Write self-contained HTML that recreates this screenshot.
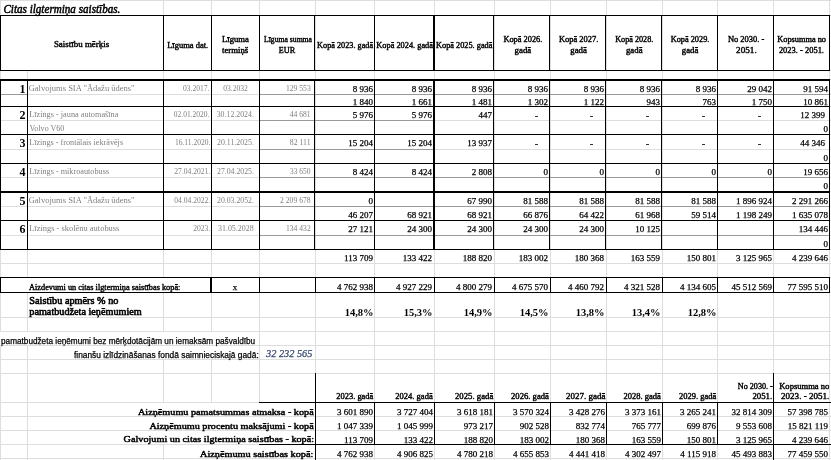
<!DOCTYPE html>
<html><head><meta charset="utf-8"><title>Citas ilgtermiņa saistības</title>
<style>
html,body{margin:0;padding:0;background:#fff;}
body{width:831px;height:460px;overflow:hidden;}
svg{display:block;}
svg text{font-family:'Liberation Serif',serif;}
</style></head><body>
<svg width="831" height="460" viewBox="0 0 831 460" shape-rendering="crispEdges">
<rect x="0" y="0" width="831" height="460" fill="#fff"/>
<rect x="0" y="0" width="831" height="1" fill="#dedede"/>
<rect x="0" y="15" width="831" height="1" fill="#dedede"/>
<rect x="0" y="70" width="831" height="1" fill="#dedede"/>
<rect x="0" y="79" width="831" height="1" fill="#dedede"/>
<rect x="0" y="94" width="831" height="1" fill="#dedede"/>
<rect x="0" y="106" width="831" height="1" fill="#dedede"/>
<rect x="0" y="120" width="831" height="1" fill="#dedede"/>
<rect x="0" y="134" width="831" height="1" fill="#dedede"/>
<rect x="0" y="149" width="831" height="1" fill="#dedede"/>
<rect x="0" y="163" width="831" height="1" fill="#dedede"/>
<rect x="0" y="177" width="831" height="1" fill="#dedede"/>
<rect x="0" y="191" width="831" height="1" fill="#dedede"/>
<rect x="0" y="206" width="831" height="1" fill="#dedede"/>
<rect x="0" y="220" width="831" height="1" fill="#dedede"/>
<rect x="0" y="235" width="831" height="1" fill="#dedede"/>
<rect x="0" y="249" width="831" height="1" fill="#dedede"/>
<rect x="0" y="263" width="831" height="1" fill="#dedede"/>
<rect x="0" y="277" width="831" height="1" fill="#dedede"/>
<rect x="0" y="292" width="831" height="1" fill="#dedede"/>
<rect x="0" y="317" width="831" height="1" fill="#dedede"/>
<rect x="0" y="331" width="831" height="1" fill="#dedede"/>
<rect x="0" y="345" width="831" height="1" fill="#dedede"/>
<rect x="0" y="359" width="831" height="1" fill="#dedede"/>
<rect x="0" y="373" width="831" height="1" fill="#dedede"/>
<rect x="0" y="402" width="831" height="1" fill="#dedede"/>
<rect x="0" y="416" width="831" height="1" fill="#dedede"/>
<rect x="0" y="430" width="831" height="1" fill="#dedede"/>
<rect x="0" y="444" width="831" height="1" fill="#dedede"/>
<rect x="0" y="458" width="831" height="1" fill="#dedede"/>
<rect x="0" y="0" width="1" height="332" fill="#dedede"/>
<rect x="0" y="345" width="1" height="115" fill="#dedede"/>
<rect x="27" y="0" width="1" height="1" fill="#dedede"/>
<rect x="27" y="15" width="1" height="1" fill="#dedede"/>
<rect x="27" y="70" width="1" height="208" fill="#dedede"/>
<rect x="27" y="292" width="1" height="40" fill="#dedede"/>
<rect x="27" y="345" width="1" height="115" fill="#dedede"/>
<rect x="163" y="0" width="1" height="16" fill="#dedede"/>
<rect x="163" y="70" width="1" height="208" fill="#dedede"/>
<rect x="163" y="292" width="1" height="40" fill="#dedede"/>
<rect x="163" y="345" width="1" height="1" fill="#dedede"/>
<rect x="163" y="359" width="1" height="44" fill="#dedede"/>
<rect x="163" y="444" width="1" height="16" fill="#dedede"/>
<rect x="211" y="0" width="1" height="332" fill="#dedede"/>
<rect x="211" y="345" width="1" height="1" fill="#dedede"/>
<rect x="211" y="359" width="1" height="44" fill="#dedede"/>
<rect x="211" y="444" width="1" height="1" fill="#dedede"/>
<rect x="259" y="0" width="1" height="403" fill="#dedede"/>
<rect x="259" y="444" width="1" height="1" fill="#dedede"/>
<rect x="315" y="0" width="1" height="460" fill="#dedede"/>
<rect x="374" y="0" width="1" height="460" fill="#dedede"/>
<rect x="434" y="0" width="1" height="460" fill="#dedede"/>
<rect x="494" y="0" width="1" height="460" fill="#dedede"/>
<rect x="550" y="0" width="1" height="460" fill="#dedede"/>
<rect x="606" y="0" width="1" height="460" fill="#dedede"/>
<rect x="662" y="0" width="1" height="460" fill="#dedede"/>
<rect x="717" y="0" width="1" height="460" fill="#dedede"/>
<rect x="773" y="0" width="1" height="460" fill="#dedede"/>
<rect x="829" y="0" width="1" height="460" fill="#dedede"/>
<rect x="0" y="94" width="28" height="1" fill="#9a9a9a"/>
<rect x="259" y="94" width="571" height="1" fill="#9a9a9a"/>
<rect x="259" y="120" width="176" height="1" fill="#9a9a9a"/>
<rect x="259" y="149" width="176" height="1" fill="#9a9a9a"/>
<rect x="259" y="177" width="571" height="1" fill="#9a9a9a"/>
<rect x="259" y="206" width="571" height="1" fill="#9a9a9a"/>
<rect x="259" y="235" width="571" height="1" fill="#9a9a9a"/>
<rect x="0" y="15" width="830" height="1" fill="#000"/>
<rect x="0" y="70" width="830" height="1" fill="#000"/>
<rect x="0" y="79" width="830" height="2" fill="#000"/>
<rect x="0" y="15" width="1" height="56" fill="#000"/>
<rect x="163" y="15" width="1" height="56" fill="#000"/>
<rect x="211" y="15" width="1" height="56" fill="#000"/>
<rect x="259" y="15" width="1" height="56" fill="#000"/>
<rect x="314" y="15" width="1" height="56" fill="#000"/>
<rect x="374" y="15" width="1" height="56" fill="#000"/>
<rect x="493" y="15" width="1" height="56" fill="#000"/>
<rect x="549" y="15" width="1" height="56" fill="#000"/>
<rect x="605" y="15" width="1" height="56" fill="#000"/>
<rect x="661" y="15" width="1" height="56" fill="#000"/>
<rect x="717" y="15" width="1" height="56" fill="#000"/>
<rect x="773" y="15" width="1" height="56" fill="#000"/>
<rect x="829" y="15" width="1" height="56" fill="#000"/>
<rect x="433" y="15" width="2" height="56" fill="#000"/>
<rect x="0" y="79" width="1" height="171" fill="#000"/>
<rect x="27" y="79" width="1" height="171" fill="#000"/>
<rect x="163" y="79" width="1" height="171" fill="#000"/>
<rect x="211" y="79" width="1" height="171" fill="#000"/>
<rect x="259" y="79" width="1" height="171" fill="#000"/>
<rect x="314" y="79" width="1" height="171" fill="#000"/>
<rect x="374" y="79" width="1" height="171" fill="#000"/>
<rect x="493" y="79" width="1" height="171" fill="#000"/>
<rect x="549" y="79" width="1" height="171" fill="#000"/>
<rect x="605" y="79" width="1" height="171" fill="#000"/>
<rect x="661" y="79" width="1" height="171" fill="#000"/>
<rect x="717" y="79" width="1" height="171" fill="#000"/>
<rect x="773" y="79" width="1" height="171" fill="#000"/>
<rect x="829" y="79" width="1" height="171" fill="#000"/>
<rect x="433" y="79" width="2" height="171" fill="#000"/>
<rect x="0" y="106" width="830" height="1" fill="#000"/>
<rect x="0" y="134" width="830" height="1" fill="#000"/>
<rect x="0" y="163" width="830" height="1" fill="#000"/>
<rect x="0" y="220" width="830" height="1" fill="#000"/>
<rect x="0" y="249" width="830" height="1" fill="#000"/>
<rect x="0" y="191" width="830" height="2" fill="#000"/>
<rect x="0" y="277" width="830" height="1" fill="#000"/>
<rect x="0" y="292" width="830" height="1" fill="#000"/>
<rect x="0" y="277" width="1" height="16" fill="#000"/>
<rect x="259" y="277" width="1" height="16" fill="#000"/>
<rect x="315" y="277" width="1" height="16" fill="#000"/>
<rect x="374" y="277" width="1" height="16" fill="#000"/>
<rect x="434" y="277" width="1" height="16" fill="#000"/>
<rect x="494" y="277" width="1" height="16" fill="#000"/>
<rect x="550" y="277" width="1" height="16" fill="#000"/>
<rect x="606" y="277" width="1" height="16" fill="#000"/>
<rect x="662" y="277" width="1" height="16" fill="#000"/>
<rect x="717" y="277" width="1" height="16" fill="#000"/>
<rect x="773" y="277" width="1" height="16" fill="#000"/>
<rect x="829" y="277" width="1" height="16" fill="#000"/>
<rect x="210" y="277" width="2" height="16" fill="#000"/>
<rect x="315" y="373" width="1" height="87" fill="#000"/>
<rect x="773" y="373" width="1" height="87" fill="#000"/>
<rect x="259" y="402" width="572" height="1" fill="#000"/>
<rect x="259" y="444" width="572" height="1" fill="#000"/>
<rect x="374" y="402" width="1" height="43" fill="#000"/>
<rect x="434" y="402" width="1" height="43" fill="#000"/>
<rect x="494" y="402" width="1" height="43" fill="#000"/>
<rect x="550" y="402" width="1" height="43" fill="#000"/>
<rect x="606" y="402" width="1" height="43" fill="#000"/>
<rect x="662" y="402" width="1" height="43" fill="#000"/>
<rect x="717" y="402" width="1" height="43" fill="#000"/>
<text x="3.4" y="13" font-size="11.5" font-style="italic" textLength="117" lengthAdjust="spacingAndGlyphs" stroke="#000" stroke-width="0.5" stroke-linejoin="round">Citas ilgtermiņa saistības.</text>
<text x="53.9" y="47" font-size="8.5" textLength="55.3" lengthAdjust="spacingAndGlyphs" stroke="#000" stroke-width="0.4" stroke-linejoin="round">Saistību mērķis</text>
<text x="167.2" y="48" font-size="8.5" textLength="41.0" lengthAdjust="spacingAndGlyphs" stroke="#000" stroke-width="0.4" stroke-linejoin="round">Līguma dat.</text>
<text x="222" y="42" font-size="8.5" textLength="26.8" lengthAdjust="spacingAndGlyphs" stroke="#000" stroke-width="0.4" stroke-linejoin="round">Līguma</text>
<text x="222" y="53" font-size="8.5" textLength="26.2" lengthAdjust="spacingAndGlyphs" stroke="#000" stroke-width="0.4" stroke-linejoin="round">termiņš</text>
<text x="264" y="42" font-size="8.5" textLength="48.0" lengthAdjust="spacingAndGlyphs" stroke="#000" stroke-width="0.4" stroke-linejoin="round">Līguma summa</text>
<text x="278.8" y="53" font-size="8.5" textLength="16.3" lengthAdjust="spacingAndGlyphs" stroke="#000" stroke-width="0.4" stroke-linejoin="round">EUR</text>
<text x="317.1" y="48" font-size="8.5" textLength="56.0" lengthAdjust="spacingAndGlyphs" stroke="#000" stroke-width="0.4" stroke-linejoin="round">Kopā 2023. gadā</text>
<text x="376.3" y="48" font-size="8.5" textLength="56.7" lengthAdjust="spacingAndGlyphs" stroke="#000" stroke-width="0.4" stroke-linejoin="round">Kopā 2024. gadā</text>
<text x="436" y="48" font-size="8.5" textLength="56.4" lengthAdjust="spacingAndGlyphs" stroke="#000" stroke-width="0.4" stroke-linejoin="round">Kopā 2025. gadā</text>
<text x="503.4" y="42" font-size="8.5" textLength="39.0" lengthAdjust="spacingAndGlyphs" stroke="#000" stroke-width="0.4" stroke-linejoin="round">Kopā 2026.</text>
<text x="514.6" y="53" font-size="8.5" textLength="16.6" lengthAdjust="spacingAndGlyphs" stroke="#000" stroke-width="0.4" stroke-linejoin="round">gadā</text>
<text x="558.9" y="42" font-size="8.5" textLength="39.4" lengthAdjust="spacingAndGlyphs" stroke="#000" stroke-width="0.4" stroke-linejoin="round">Kopā 2027.</text>
<text x="570.3" y="53" font-size="8.5" textLength="16.6" lengthAdjust="spacingAndGlyphs" stroke="#000" stroke-width="0.4" stroke-linejoin="round">gadā</text>
<text x="615.2" y="42" font-size="8.5" textLength="38.1" lengthAdjust="spacingAndGlyphs" stroke="#000" stroke-width="0.4" stroke-linejoin="round">Kopā 2028.</text>
<text x="625.9499999999999" y="53" font-size="8.5" textLength="16.6" lengthAdjust="spacingAndGlyphs" stroke="#000" stroke-width="0.4" stroke-linejoin="round">gadā</text>
<text x="670.7" y="42" font-size="8.5" textLength="38.7" lengthAdjust="spacingAndGlyphs" stroke="#000" stroke-width="0.4" stroke-linejoin="round">Kopā 2029.</text>
<text x="681.75" y="53" font-size="8.5" textLength="16.6" lengthAdjust="spacingAndGlyphs" stroke="#000" stroke-width="0.4" stroke-linejoin="round">gadā</text>
<text x="727.9" y="42" font-size="8.5" textLength="36.4" lengthAdjust="spacingAndGlyphs" stroke="#000" stroke-width="0.4" stroke-linejoin="round">No 2030. -</text>
<text x="736.1" y="53" font-size="8.5" textLength="20.6" lengthAdjust="spacingAndGlyphs" stroke="#000" stroke-width="0.4" stroke-linejoin="round">2051.</text>
<text x="777.3" y="42" font-size="8.5" textLength="48.7" lengthAdjust="spacingAndGlyphs" stroke="#000" stroke-width="0.4" stroke-linejoin="round">Kopsumma no</text>
<text x="778.9" y="53" font-size="8.5" textLength="45.1" lengthAdjust="spacingAndGlyphs" stroke="#000" stroke-width="0.4" stroke-linejoin="round">2023. - 2051.</text>
<text x="373" y="92" font-size="9" text-anchor="end" stroke="#000" stroke-width="0.25" stroke-linejoin="round">8 936</text>
<text x="432" y="92" font-size="9" text-anchor="end" stroke="#000" stroke-width="0.25" stroke-linejoin="round">8 936</text>
<text x="492" y="92" font-size="9" text-anchor="end" stroke="#000" stroke-width="0.25" stroke-linejoin="round">8 936</text>
<text x="548" y="92" font-size="9" text-anchor="end" stroke="#000" stroke-width="0.25" stroke-linejoin="round">8 936</text>
<text x="604" y="92" font-size="9" text-anchor="end" stroke="#000" stroke-width="0.25" stroke-linejoin="round">8 936</text>
<text x="660" y="92" font-size="9" text-anchor="end" stroke="#000" stroke-width="0.25" stroke-linejoin="round">8 936</text>
<text x="716" y="92" font-size="9" text-anchor="end" stroke="#000" stroke-width="0.25" stroke-linejoin="round">8 936</text>
<text x="772" y="92" font-size="9" text-anchor="end" stroke="#000" stroke-width="0.25" stroke-linejoin="round">29 042</text>
<text x="828" y="92" font-size="9" text-anchor="end" stroke="#000" stroke-width="0.25" stroke-linejoin="round">91 594</text>
<text x="373" y="105" font-size="9" text-anchor="end" stroke="#000" stroke-width="0.25" stroke-linejoin="round">1 840</text>
<text x="432" y="105" font-size="9" text-anchor="end" stroke="#000" stroke-width="0.25" stroke-linejoin="round">1 661</text>
<text x="492" y="105" font-size="9" text-anchor="end" stroke="#000" stroke-width="0.25" stroke-linejoin="round">1 481</text>
<text x="548" y="105" font-size="9" text-anchor="end" stroke="#000" stroke-width="0.25" stroke-linejoin="round">1 302</text>
<text x="604" y="105" font-size="9" text-anchor="end" stroke="#000" stroke-width="0.25" stroke-linejoin="round">1 122</text>
<text x="660" y="105" font-size="9" text-anchor="end" stroke="#000" stroke-width="0.25" stroke-linejoin="round">943</text>
<text x="716" y="105" font-size="9" text-anchor="end" stroke="#000" stroke-width="0.25" stroke-linejoin="round">763</text>
<text x="772" y="105" font-size="9" text-anchor="end" stroke="#000" stroke-width="0.25" stroke-linejoin="round">1 750</text>
<text x="828" y="105" font-size="9" text-anchor="end" stroke="#000" stroke-width="0.25" stroke-linejoin="round">10 861</text>
<text x="373" y="118" font-size="9" text-anchor="end" stroke="#000" stroke-width="0.25" stroke-linejoin="round">5 976</text>
<text x="432" y="118" font-size="9" text-anchor="end" stroke="#000" stroke-width="0.25" stroke-linejoin="round">5 976</text>
<text x="492" y="118" font-size="9" text-anchor="end" stroke="#000" stroke-width="0.25" stroke-linejoin="round">447</text>
<rect x="535" y="116" width="3" height="1" fill="#333"/>
<rect x="590" y="116" width="3" height="1" fill="#333"/>
<rect x="646" y="116" width="3" height="1" fill="#333"/>
<rect x="702" y="116" width="3" height="1" fill="#333"/>
<rect x="758" y="116" width="3" height="1" fill="#333"/>
<text x="825" y="118" font-size="9" text-anchor="end" stroke="#000" stroke-width="0.25" stroke-linejoin="round">12 399</text>
<text x="828" y="132" font-size="9" text-anchor="end" stroke="#000" stroke-width="0.25" stroke-linejoin="round">0</text>
<text x="373" y="146" font-size="9" text-anchor="end" stroke="#000" stroke-width="0.25" stroke-linejoin="round">15 204</text>
<text x="432" y="146" font-size="9" text-anchor="end" stroke="#000" stroke-width="0.25" stroke-linejoin="round">15 204</text>
<text x="492" y="146" font-size="9" text-anchor="end" stroke="#000" stroke-width="0.25" stroke-linejoin="round">13 937</text>
<rect x="535" y="144" width="3" height="1" fill="#333"/>
<rect x="590" y="144" width="3" height="1" fill="#333"/>
<rect x="646" y="144" width="3" height="1" fill="#333"/>
<rect x="702" y="144" width="3" height="1" fill="#333"/>
<rect x="758" y="144" width="3" height="1" fill="#333"/>
<text x="825" y="146" font-size="9" text-anchor="end" stroke="#000" stroke-width="0.25" stroke-linejoin="round">44 346</text>
<text x="828" y="161" font-size="9" text-anchor="end" stroke="#000" stroke-width="0.25" stroke-linejoin="round">0</text>
<text x="373" y="175" font-size="9" text-anchor="end" stroke="#000" stroke-width="0.25" stroke-linejoin="round">8 424</text>
<text x="432" y="175" font-size="9" text-anchor="end" stroke="#000" stroke-width="0.25" stroke-linejoin="round">8 424</text>
<text x="492" y="175" font-size="9" text-anchor="end" stroke="#000" stroke-width="0.25" stroke-linejoin="round">2 808</text>
<text x="548" y="175" font-size="9" text-anchor="end" stroke="#000" stroke-width="0.25" stroke-linejoin="round">0</text>
<text x="604" y="175" font-size="9" text-anchor="end" stroke="#000" stroke-width="0.25" stroke-linejoin="round">0</text>
<text x="660" y="175" font-size="9" text-anchor="end" stroke="#000" stroke-width="0.25" stroke-linejoin="round">0</text>
<text x="716" y="175" font-size="9" text-anchor="end" stroke="#000" stroke-width="0.25" stroke-linejoin="round">0</text>
<text x="772" y="175" font-size="9" text-anchor="end" stroke="#000" stroke-width="0.25" stroke-linejoin="round">0</text>
<text x="828" y="175" font-size="9" text-anchor="end" stroke="#000" stroke-width="0.25" stroke-linejoin="round">19 656</text>
<text x="828" y="189" font-size="9" text-anchor="end" stroke="#000" stroke-width="0.25" stroke-linejoin="round">0</text>
<text x="373" y="204" font-size="9" text-anchor="end" stroke="#000" stroke-width="0.25" stroke-linejoin="round">0</text>
<text x="492" y="204" font-size="9" text-anchor="end" stroke="#000" stroke-width="0.25" stroke-linejoin="round">67 990</text>
<text x="548" y="204" font-size="9" text-anchor="end" stroke="#000" stroke-width="0.25" stroke-linejoin="round">81 588</text>
<text x="604" y="204" font-size="9" text-anchor="end" stroke="#000" stroke-width="0.25" stroke-linejoin="round">81 588</text>
<text x="660" y="204" font-size="9" text-anchor="end" stroke="#000" stroke-width="0.25" stroke-linejoin="round">81 588</text>
<text x="716" y="204" font-size="9" text-anchor="end" stroke="#000" stroke-width="0.25" stroke-linejoin="round">81 588</text>
<text x="772" y="204" font-size="9" text-anchor="end" stroke="#000" stroke-width="0.25" stroke-linejoin="round">1 896 924</text>
<text x="828" y="204" font-size="9" text-anchor="end" stroke="#000" stroke-width="0.25" stroke-linejoin="round">2 291 266</text>
<text x="373" y="218" font-size="9" text-anchor="end" stroke="#000" stroke-width="0.25" stroke-linejoin="round">46 207</text>
<text x="432" y="218" font-size="9" text-anchor="end" stroke="#000" stroke-width="0.25" stroke-linejoin="round">68 921</text>
<text x="492" y="218" font-size="9" text-anchor="end" stroke="#000" stroke-width="0.25" stroke-linejoin="round">68 921</text>
<text x="548" y="218" font-size="9" text-anchor="end" stroke="#000" stroke-width="0.25" stroke-linejoin="round">66 876</text>
<text x="604" y="218" font-size="9" text-anchor="end" stroke="#000" stroke-width="0.25" stroke-linejoin="round">64 422</text>
<text x="660" y="218" font-size="9" text-anchor="end" stroke="#000" stroke-width="0.25" stroke-linejoin="round">61 968</text>
<text x="716" y="218" font-size="9" text-anchor="end" stroke="#000" stroke-width="0.25" stroke-linejoin="round">59 514</text>
<text x="772" y="218" font-size="9" text-anchor="end" stroke="#000" stroke-width="0.25" stroke-linejoin="round">1 198 249</text>
<text x="828" y="218" font-size="9" text-anchor="end" stroke="#000" stroke-width="0.25" stroke-linejoin="round">1 635 078</text>
<text x="373" y="232" font-size="9" text-anchor="end" stroke="#000" stroke-width="0.25" stroke-linejoin="round">27 121</text>
<text x="432" y="232" font-size="9" text-anchor="end" stroke="#000" stroke-width="0.25" stroke-linejoin="round">24 300</text>
<text x="492" y="232" font-size="9" text-anchor="end" stroke="#000" stroke-width="0.25" stroke-linejoin="round">24 300</text>
<text x="548" y="232" font-size="9" text-anchor="end" stroke="#000" stroke-width="0.25" stroke-linejoin="round">24 300</text>
<text x="604" y="232" font-size="9" text-anchor="end" stroke="#000" stroke-width="0.25" stroke-linejoin="round">24 300</text>
<text x="660" y="232" font-size="9" text-anchor="end" stroke="#000" stroke-width="0.25" stroke-linejoin="round">10 125</text>
<text x="828" y="232" font-size="9" text-anchor="end" stroke="#000" stroke-width="0.25" stroke-linejoin="round">134 446</text>
<text x="828" y="247" font-size="9" text-anchor="end" stroke="#000" stroke-width="0.25" stroke-linejoin="round">0</text>
<text x="373" y="261" font-size="9" text-anchor="end" stroke="#000" stroke-width="0.25" stroke-linejoin="round">113 709</text>
<text x="432" y="261" font-size="9" text-anchor="end" stroke="#000" stroke-width="0.25" stroke-linejoin="round">133 422</text>
<text x="492" y="261" font-size="9" text-anchor="end" stroke="#000" stroke-width="0.25" stroke-linejoin="round">188 820</text>
<text x="548" y="261" font-size="9" text-anchor="end" stroke="#000" stroke-width="0.25" stroke-linejoin="round">183 002</text>
<text x="604" y="261" font-size="9" text-anchor="end" stroke="#000" stroke-width="0.25" stroke-linejoin="round">180 368</text>
<text x="660" y="261" font-size="9" text-anchor="end" stroke="#000" stroke-width="0.25" stroke-linejoin="round">163 559</text>
<text x="716" y="261" font-size="9" text-anchor="end" stroke="#000" stroke-width="0.25" stroke-linejoin="round">150 801</text>
<text x="772" y="261" font-size="9" text-anchor="end" stroke="#000" stroke-width="0.25" stroke-linejoin="round">3 125 965</text>
<text x="828" y="261" font-size="9" text-anchor="end" stroke="#000" stroke-width="0.25" stroke-linejoin="round">4 239 646</text>
<text x="25.5" y="93" font-size="12" text-anchor="end" font-weight="bold">1</text>
<text x="28.7" y="91" font-size="9" fill="#7f7f7f" textLength="105.9" lengthAdjust="spacingAndGlyphs">Galvojums SIA "Ādažu ūdens"</text>
<text x="183" y="91" font-size="9" fill="#7f7f7f" textLength="26.3" lengthAdjust="spacingAndGlyphs">03.2017.</text>
<text x="223.2" y="91" font-size="9" fill="#7f7f7f" textLength="24.7" lengthAdjust="spacingAndGlyphs">03.2032</text>
<text x="286" y="91" font-size="9" fill="#7f7f7f" textLength="24.7" lengthAdjust="spacingAndGlyphs">129 553</text>
<text x="25.5" y="119" font-size="12" text-anchor="end" font-weight="bold">2</text>
<text x="29.2" y="117" font-size="9" fill="#7f7f7f" textLength="89.2" lengthAdjust="spacingAndGlyphs">Līzings - jauna automašīna</text>
<text x="173.8" y="117" font-size="9" fill="#7f7f7f" textLength="35.5" lengthAdjust="spacingAndGlyphs">02.01.2020.</text>
<text x="216.7" y="117" font-size="9" fill="#7f7f7f" textLength="37.2" lengthAdjust="spacingAndGlyphs">30.12.2024.</text>
<text x="289.7" y="117" font-size="9" fill="#7f7f7f" textLength="21.0" lengthAdjust="spacingAndGlyphs">44 681</text>
<text x="25.5" y="147" font-size="12" text-anchor="end" font-weight="bold">3</text>
<text x="29.2" y="145" font-size="9" fill="#7f7f7f" textLength="93.9" lengthAdjust="spacingAndGlyphs">Līzings - frontālais iekrāvējs</text>
<text x="174.9" y="145" font-size="9" fill="#7f7f7f" textLength="35.4" lengthAdjust="spacingAndGlyphs">16.11.2020.</text>
<text x="217" y="145" font-size="9" fill="#7f7f7f" textLength="36.9" lengthAdjust="spacingAndGlyphs">20.11.2025.</text>
<text x="289.8" y="145" font-size="9" fill="#7f7f7f" textLength="20.8" lengthAdjust="spacingAndGlyphs">82 111</text>
<text x="25.5" y="176" font-size="12" text-anchor="end" font-weight="bold">4</text>
<text x="29.2" y="174" font-size="9" fill="#7f7f7f" textLength="79.9" lengthAdjust="spacingAndGlyphs">Līzings - mikroautobuss</text>
<text x="174.3" y="174" font-size="9" fill="#7f7f7f" textLength="36.0" lengthAdjust="spacingAndGlyphs">27.04.2021.</text>
<text x="217" y="174" font-size="9" fill="#7f7f7f" textLength="36.9" lengthAdjust="spacingAndGlyphs">27.04.2025.</text>
<text x="290" y="174" font-size="9" fill="#7f7f7f" textLength="20.6" lengthAdjust="spacingAndGlyphs">33 650</text>
<text x="25.5" y="205" font-size="12" text-anchor="end" font-weight="bold">5</text>
<text x="28.7" y="203" font-size="9" fill="#7f7f7f" textLength="105.9" lengthAdjust="spacingAndGlyphs">Galvojums SIA "Ādažu ūdens"</text>
<text x="174.3" y="203" font-size="9" fill="#7f7f7f" textLength="36.0" lengthAdjust="spacingAndGlyphs">04.04.2022.</text>
<text x="217" y="203" font-size="9" fill="#7f7f7f" textLength="36.9" lengthAdjust="spacingAndGlyphs">20.03.2052.</text>
<text x="280" y="203" font-size="9" fill="#7f7f7f" textLength="30.7" lengthAdjust="spacingAndGlyphs">2 209 678</text>
<text x="25.5" y="233" font-size="12" text-anchor="end" font-weight="bold">6</text>
<text x="29.2" y="231" font-size="9" fill="#7f7f7f" textLength="90.2" lengthAdjust="spacingAndGlyphs">Līzings - skolēnu autobuss</text>
<text x="193.2" y="231" font-size="9" fill="#7f7f7f" textLength="17.1" lengthAdjust="spacingAndGlyphs">2023.</text>
<text x="218" y="231" font-size="9" fill="#7f7f7f" textLength="35.6" lengthAdjust="spacingAndGlyphs">31.05.2028</text>
<text x="286" y="231" font-size="9" fill="#7f7f7f" textLength="24.7" lengthAdjust="spacingAndGlyphs">134 432</text>
<text x="29.6" y="131" font-size="9" fill="#7f7f7f" textLength="34.8" lengthAdjust="spacingAndGlyphs">Volvo V60</text>
<text x="29" y="290" font-size="8.5" textLength="151.4" lengthAdjust="spacingAndGlyphs" stroke="#000" stroke-width="0.4" stroke-linejoin="round">Aizdevumi un citas ilgtermiņa saistības kopā:</text>
<text x="235" y="290" font-size="9" text-anchor="middle" stroke="#000" stroke-width="0.25" stroke-linejoin="round">x</text>
<text x="373" y="290" font-size="9" text-anchor="end" stroke="#000" stroke-width="0.25" stroke-linejoin="round">4 762 938</text>
<text x="432" y="290" font-size="9" text-anchor="end" stroke="#000" stroke-width="0.25" stroke-linejoin="round">4 927 229</text>
<text x="492" y="290" font-size="9" text-anchor="end" stroke="#000" stroke-width="0.25" stroke-linejoin="round">4 800 279</text>
<text x="548" y="290" font-size="9" text-anchor="end" stroke="#000" stroke-width="0.25" stroke-linejoin="round">4 675 570</text>
<text x="604" y="290" font-size="9" text-anchor="end" stroke="#000" stroke-width="0.25" stroke-linejoin="round">4 460 792</text>
<text x="660" y="290" font-size="9" text-anchor="end" stroke="#000" stroke-width="0.25" stroke-linejoin="round">4 321 528</text>
<text x="716" y="290" font-size="9" text-anchor="end" stroke="#000" stroke-width="0.25" stroke-linejoin="round">4 134 605</text>
<text x="772" y="290" font-size="9" text-anchor="end" stroke="#000" stroke-width="0.25" stroke-linejoin="round">45 512 569</text>
<text x="828" y="290" font-size="9" text-anchor="end" stroke="#000" stroke-width="0.25" stroke-linejoin="round">77 595 510</text>
<text x="29.3" y="303.5" font-size="10.5" textLength="89.1" lengthAdjust="spacingAndGlyphs" stroke="#000" stroke-width="0.6" stroke-linejoin="round">Saistību apmērs % no</text>
<text x="29.3" y="314.5" font-size="10.5" textLength="112.4" lengthAdjust="spacingAndGlyphs" stroke="#000" stroke-width="0.6" stroke-linejoin="round">pamatbudžeta ieņēmumiem</text>
<text x="373.5" y="316" font-size="10.5" text-anchor="end" font-weight="bold">14,8%</text>
<text x="432.5" y="316" font-size="10.5" text-anchor="end" font-weight="bold">15,3%</text>
<text x="492.5" y="316" font-size="10.5" text-anchor="end" font-weight="bold">14,9%</text>
<text x="548.5" y="316" font-size="10.5" text-anchor="end" font-weight="bold">14,5%</text>
<text x="604.5" y="316" font-size="10.5" text-anchor="end" font-weight="bold">13,8%</text>
<text x="660.5" y="316" font-size="10.5" text-anchor="end" font-weight="bold">13,4%</text>
<text x="716.5" y="316" font-size="10.5" text-anchor="end" font-weight="bold">12,8%</text>
<text x="1" y="344" font-size="8.5" style="font-family:'Liberation Sans', sans-serif" textLength="254.2" lengthAdjust="spacingAndGlyphs" stroke="#000" stroke-width="0.25" stroke-linejoin="round">pamatbudžeta ieņēmumi bez mērķdotācijām un iemaksām pašvaldību</text>
<text x="74" y="358" font-size="8.5" style="font-family:'Liberation Sans', sans-serif" textLength="184.7" lengthAdjust="spacingAndGlyphs" stroke="#000" stroke-width="0.25" stroke-linejoin="round">finanšu izlīdzināšanas fondā saimnieciskajā gadā:</text>
<text x="266" y="357" font-size="11" font-style="italic" fill="#34466e" textLength="46.4" lengthAdjust="spacingAndGlyphs" stroke="#34466e" stroke-width="0.25" stroke-linejoin="round">32 232 565</text>
<text x="336.3" y="399" font-size="8.5" textLength="37.0" lengthAdjust="spacingAndGlyphs" stroke="#000" stroke-width="0.4" stroke-linejoin="round">2023. gadā</text>
<text x="395.3" y="399" font-size="8.5" textLength="37.4" lengthAdjust="spacingAndGlyphs" stroke="#000" stroke-width="0.4" stroke-linejoin="round">2024. gadā</text>
<text x="455" y="399" font-size="8.5" textLength="38.3" lengthAdjust="spacingAndGlyphs" stroke="#000" stroke-width="0.4" stroke-linejoin="round">2025. gadā</text>
<text x="511.0" y="399" font-size="8.5" textLength="37.9" lengthAdjust="spacingAndGlyphs" stroke="#000" stroke-width="0.4" stroke-linejoin="round">2026. gadā</text>
<text x="565.9" y="399" font-size="8.5" textLength="39.5" lengthAdjust="spacingAndGlyphs" stroke="#000" stroke-width="0.4" stroke-linejoin="round">2027. gadā</text>
<text x="623.6" y="399" font-size="8.5" textLength="37.3" lengthAdjust="spacingAndGlyphs" stroke="#000" stroke-width="0.4" stroke-linejoin="round">2028. gadā</text>
<text x="679" y="399" font-size="8.5" textLength="37.3" lengthAdjust="spacingAndGlyphs" stroke="#000" stroke-width="0.4" stroke-linejoin="round">2029. gadā</text>
<text x="737.8" y="389" font-size="8.5" textLength="35.0" lengthAdjust="spacingAndGlyphs" stroke="#000" stroke-width="0.4" stroke-linejoin="round">No 2030. -</text>
<text x="752.4" y="399" font-size="8.5" textLength="19.8" lengthAdjust="spacingAndGlyphs" stroke="#000" stroke-width="0.4" stroke-linejoin="round">2051.</text>
<text x="779.2" y="389" font-size="8.5" textLength="50.2" lengthAdjust="spacingAndGlyphs" stroke="#000" stroke-width="0.4" stroke-linejoin="round">Kopsumma no</text>
<text x="781" y="399" font-size="8.5" textLength="48.4" lengthAdjust="spacingAndGlyphs" stroke="#000" stroke-width="0.4" stroke-linejoin="round">2023. - 2051.</text>
<text x="138" y="415" font-size="9" textLength="175.7" lengthAdjust="spacingAndGlyphs" stroke="#000" stroke-width="0.45" stroke-linejoin="round">Aizņēmumu pamatsummas atmaksa - kopā</text>
<text x="149.4" y="429" font-size="9" textLength="164.3" lengthAdjust="spacingAndGlyphs" stroke="#000" stroke-width="0.45" stroke-linejoin="round">Aizņēmumu procentu maksājumi - kopā</text>
<text x="123.6" y="442" font-size="9" textLength="190.5" lengthAdjust="spacingAndGlyphs" stroke="#000" stroke-width="0.45" stroke-linejoin="round">Galvojumi un citas ilgtermiņa saistības - kopā:</text>
<text x="200" y="457" font-size="9" textLength="113.4" lengthAdjust="spacingAndGlyphs" stroke="#000" stroke-width="0.45" stroke-linejoin="round">Aizņēmumu saistības kopā:</text>
<text x="373" y="415" font-size="9" text-anchor="end" stroke="#000" stroke-width="0.25" stroke-linejoin="round">3 601 890</text>
<text x="433" y="415" font-size="9" text-anchor="end" stroke="#000" stroke-width="0.25" stroke-linejoin="round">3 727 404</text>
<text x="493" y="415" font-size="9" text-anchor="end" stroke="#000" stroke-width="0.25" stroke-linejoin="round">3 618 181</text>
<text x="549" y="415" font-size="9" text-anchor="end" stroke="#000" stroke-width="0.25" stroke-linejoin="round">3 570 324</text>
<text x="605" y="415" font-size="9" text-anchor="end" stroke="#000" stroke-width="0.25" stroke-linejoin="round">3 428 276</text>
<text x="661" y="415" font-size="9" text-anchor="end" stroke="#000" stroke-width="0.25" stroke-linejoin="round">3 373 161</text>
<text x="716" y="415" font-size="9" text-anchor="end" stroke="#000" stroke-width="0.25" stroke-linejoin="round">3 265 241</text>
<text x="772" y="415" font-size="9" text-anchor="end" stroke="#000" stroke-width="0.25" stroke-linejoin="round">32 814 309</text>
<text x="828" y="415" font-size="9" text-anchor="end" stroke="#000" stroke-width="0.25" stroke-linejoin="round">57 398 785</text>
<text x="373" y="429" font-size="9" text-anchor="end" stroke="#000" stroke-width="0.25" stroke-linejoin="round">1 047 339</text>
<text x="433" y="429" font-size="9" text-anchor="end" stroke="#000" stroke-width="0.25" stroke-linejoin="round">1 045 999</text>
<text x="493" y="429" font-size="9" text-anchor="end" stroke="#000" stroke-width="0.25" stroke-linejoin="round">973 217</text>
<text x="549" y="429" font-size="9" text-anchor="end" stroke="#000" stroke-width="0.25" stroke-linejoin="round">902 528</text>
<text x="605" y="429" font-size="9" text-anchor="end" stroke="#000" stroke-width="0.25" stroke-linejoin="round">832 774</text>
<text x="661" y="429" font-size="9" text-anchor="end" stroke="#000" stroke-width="0.25" stroke-linejoin="round">765 777</text>
<text x="716" y="429" font-size="9" text-anchor="end" stroke="#000" stroke-width="0.25" stroke-linejoin="round">699 876</text>
<text x="772" y="429" font-size="9" text-anchor="end" stroke="#000" stroke-width="0.25" stroke-linejoin="round">9 553 608</text>
<text x="828" y="429" font-size="9" text-anchor="end" stroke="#000" stroke-width="0.25" stroke-linejoin="round">15 821 119</text>
<text x="373" y="443" font-size="9" text-anchor="end" stroke="#000" stroke-width="0.25" stroke-linejoin="round">113 709</text>
<text x="433" y="443" font-size="9" text-anchor="end" stroke="#000" stroke-width="0.25" stroke-linejoin="round">133 422</text>
<text x="493" y="443" font-size="9" text-anchor="end" stroke="#000" stroke-width="0.25" stroke-linejoin="round">188 820</text>
<text x="549" y="443" font-size="9" text-anchor="end" stroke="#000" stroke-width="0.25" stroke-linejoin="round">183 002</text>
<text x="605" y="443" font-size="9" text-anchor="end" stroke="#000" stroke-width="0.25" stroke-linejoin="round">180 368</text>
<text x="661" y="443" font-size="9" text-anchor="end" stroke="#000" stroke-width="0.25" stroke-linejoin="round">163 559</text>
<text x="716" y="443" font-size="9" text-anchor="end" stroke="#000" stroke-width="0.25" stroke-linejoin="round">150 801</text>
<text x="772" y="443" font-size="9" text-anchor="end" stroke="#000" stroke-width="0.25" stroke-linejoin="round">3 125 965</text>
<text x="828" y="443" font-size="9" text-anchor="end" stroke="#000" stroke-width="0.25" stroke-linejoin="round">4 239 646</text>
<text x="373" y="457" font-size="9" text-anchor="end" stroke="#000" stroke-width="0.25" stroke-linejoin="round">4 762 938</text>
<text x="433" y="457" font-size="9" text-anchor="end" stroke="#000" stroke-width="0.25" stroke-linejoin="round">4 906 825</text>
<text x="493" y="457" font-size="9" text-anchor="end" stroke="#000" stroke-width="0.25" stroke-linejoin="round">4 780 218</text>
<text x="549" y="457" font-size="9" text-anchor="end" stroke="#000" stroke-width="0.25" stroke-linejoin="round">4 655 853</text>
<text x="605" y="457" font-size="9" text-anchor="end" stroke="#000" stroke-width="0.25" stroke-linejoin="round">4 441 418</text>
<text x="661" y="457" font-size="9" text-anchor="end" stroke="#000" stroke-width="0.25" stroke-linejoin="round">4 302 497</text>
<text x="716" y="457" font-size="9" text-anchor="end" stroke="#000" stroke-width="0.25" stroke-linejoin="round">4 115 918</text>
<text x="772" y="457" font-size="9" text-anchor="end" stroke="#000" stroke-width="0.25" stroke-linejoin="round">45 493 883</text>
<text x="828" y="457" font-size="9" text-anchor="end" stroke="#000" stroke-width="0.25" stroke-linejoin="round">77 459 550</text>
</svg>
</body></html>
